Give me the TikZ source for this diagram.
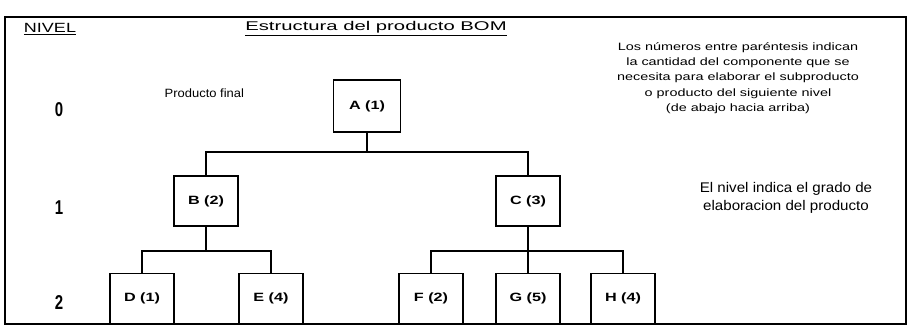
\documentclass[tikz,border=0pt]{standalone}
\usepackage{fontspec}
\setmainfont{Liberation Sans}
\newfontfamily\fwide[FakeStretch=1.35]{Liberation Sans}
\newfontfamily\fxwide[FakeStretch=1.6]{Liberation Sans}
\newfontfamily\fnarrow[FakeStretch=0.75]{Liberation Sans}
\newfontfamily\fmid[FakeStretch=1.08]{Liberation Sans}
\begin{document}
\begin{tikzpicture}[x=0.75pt,y=-0.75pt,
  box/.style={draw,line width=1.2pt,minimum width=48pt,minimum height=37.5pt,inner sep=0pt,font=\fwide\bfseries\fontsize{9}{10}\selectfont},
  conn/.style={line width=1pt},
  lvl/.style={font=\fnarrow\bfseries\fontsize{15}{16}\selectfont},
  note/.style={align=center,font=\fwide\fontsize{8}{11.5}\selectfont},
  head/.style={font=\fxwide\fontsize{9.5}{11}\selectfont}]
\useasboundingbox (0,0) rectangle (911,327);
\draw[line width=1.5pt] (5,17) rectangle (906,324);
% headings
\node[head,font=\fwide\fontsize{10}{11}\selectfont] (nivel) at (50,29) {\underline{NIVEL}};
\node[head] (title) at (376,29) {\underline{Estructura del producto BOM}};
\node[note] (nota) at (738,78) {Los números entre paréntesis indican\\la cantidad del componente que se\\necesita para elaborar el subproducto\\o producto del siguiente nivel\\(de abajo hacia arriba)};
\node[align=center,font=\fmid\fontsize{10.5}{13}\selectfont] (nivelnota) at (786,198) {El nivel indica el grado de\\elaboracion del producto};
\node[anchor=west,font=\fmid\fontsize{9}{10}\selectfont] (pf) at (160,93) {Producto final};
% level numbers
\node[lvl] (l0) at (59,110) {0};
\node[lvl] (l1) at (59,208) {1};
\node[lvl] (l2) at (59,303) {2};
% boxes
\node[box,minimum width=50pt,minimum height=39pt] (A) at (367,106) {A (1)};
\node[box] (B) at (206,201) {B (2)};
\node[box] (C) at (528,201) {C (3)};
\node[box] (D) at (142,298.5) {D (1)};
\node[box] (E) at (271,298.5) {E (4)};
\node[box] (F) at (431,298.5) {F (2)};
\node[box] (G) at (528,298.5) {G (5)};
\node[box] (H) at (623,298.5) {H (4)};
% connectors
\coordinate (jA) at (367,152);
\coordinate (jB) at (206,251);
\coordinate (jC) at (528,251);
\draw[conn] (A.south) -- (jA);
\draw[conn] (B.north) |- (jA) -| (C.north);
\draw[conn] (B.south) -- (jB);
\draw[conn] (D.north) |- (jB) -| (E.north);
\draw[conn] (C.south) -- (jC);
\draw[conn] (F.north) |- (jC) -| (H.north);
\draw[conn] (jC) -- (G.north);
\end{tikzpicture}
\end{document}
